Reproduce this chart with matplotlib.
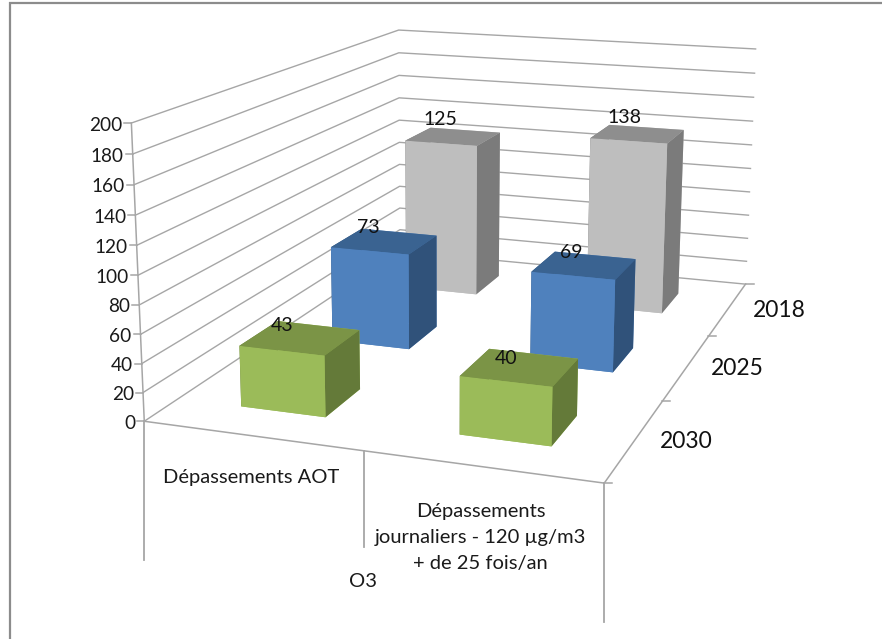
import matplotlib
matplotlib.use("Agg")
import matplotlib.pyplot as plt
from matplotlib.lines import Line2D
from mpl_toolkits.mplot3d import proj3d

# ---- data ----
categories = ["Dépassements AOT", "Dépassements\njournaliers - 120 µg/m3\n+ de 25 fois/an"]
group_label = "O3"
years = ["2030", "2025", "2018"]
values_2030 = [43, 40]
values_2025 = [73, 69]
values_2018 = [125, 138]
z_ticks = [0, 20, 40, 60, 80, 100, 120, 140, 160, 180, 200]

# ---- styles ----
series = [values_2030, values_2025, values_2018]
# faces of a bar: bottom, top, front, back, left, right
green = ['#9BBB59', '#7B9446', '#9BBB59', '#9BBB59', '#647A39', '#647A39']
blue = ['#4F81BD', '#3A6391', '#4F81BD', '#4F81BD', '#30527A', '#30527A']
gray = ['#BEBEBE', '#8E8E8E', '#BEBEBE', '#BEBEBE', '#7B7B7B', '#7B7B7B']
palette = [green, blue, gray]
label_offsets = [[(-18, 12), (-14, 9)], [(-16, 14), (-13, 13)], [(-13, 17), (-13, 17)]]
LINE = '#A6A6A6'
TXT = '#1a1a1a'
plt.rcParams['font.family'] = ['Lato', 'DejaVu Sans']

W, H = 882, 639
fig = plt.figure(figsize=(W/100, H/100), dpi=100, facecolor='white')
S, TX, TY = 4203.10, 482.68, 215.18
left, right = S*-0.095 + TX, S*0.09 + TX
bottom_img = S*0.095 + TY
ax = fig.add_axes([left/W, (H - bottom_img)/H, (right-left)/W, (right-left)/H], projection='3d')
ax.set_xlim(0, 2); ax.set_ylim(0, len(years)); ax.set_zlim(z_ticks[0], z_ticks[-1])
ax.view_init(elev=13.849, azim=-71.222, roll=-0.320)
ax.set_proj_type('persp', focal_length=0.417)
ax.set_box_aspect((1.567, 2.301, 1))
ax.set_axis_off()
ax.computed_zorder = False
ax.patch.set_alpha(0)


def proj(x, y, z):
    X, Y, _ = proj3d.proj_transform(x, y, z, ax.get_proj())
    return float(X), float(Y)


def disp(x, y, z):
    return ax.transData.transform(proj(x, y, z))


def screen_line(p, q, lw=1.1):
    fig.add_artist(Line2D([p[0], q[0]], [p[1], q[1]], transform=None, color=LINE, lw=lw))


x_end, y_end = len(categories), len(years)
# walls' gridlines
for z in z_ticks:
    ax.plot([0, 0, x_end], [0, y_end, y_end], [z, z, z], color=LINE, lw=1.0, zorder=1, clip_on=False)
# axis lines
ax.plot([0, 0], [0, 0], [z_ticks[0], z_ticks[-1]], color=LINE, lw=1.1, zorder=2)
ax.plot([0, x_end, x_end], [0, 0, y_end], [0, 0, 0], color=LINE, lw=1.1, zorder=2)

# z ticks and labels
for z in z_ticks:
    d = disp(0, 0, z)
    screen_line(d, (d[0]-7, d[1]))
    ax.annotate(str(z), xy=proj(0, 0, z), xytext=(-9, -2), textcoords='offset pixels', ha='right',
                va='center', fontsize=13.7, color=TXT, zorder=20, annotation_clip=False)

# depth axis ticks and labels
for k in range(y_end + 1):
    d = disp(x_end, k, 0)
    screen_line(d, (d[0]+8, d[1]))
for k, yr in enumerate(years):
    ax.annotate(yr, xy=proj(x_end, k+0.5, 0), xytext=(51, -1.5), textcoords='offset pixels', ha='center',
                va='center', fontsize=16.5, color='#111111', zorder=20, annotation_clip=False)

# multi-level category separators
for x, drop in zip([0, 1, 2], [139, 96, 139]):
    d = disp(x, 0, 0)
    screen_line(d, (d[0], d[1]-drop), lw=1.3)
for i, (cat, off) in enumerate(zip(categories, [(-1, -42), (-1, -71)])):
    ax.annotate(cat, xy=proj(i+0.5, 0, 0), xytext=off, textcoords='offset pixels', ha='center', va='center',
                fontsize=14.5, color=TXT, linespacing=1.64, zorder=20, annotation_clip=False)
ax.annotate(group_label, xy=proj(1, 0, 0), xytext=(-1, -131), textcoords='offset pixels', ha='center', va='center',
            fontsize=14.5, color=TXT, zorder=20, annotation_clip=False)

# bars
BW, BD = 0.396, 0.386
for k in reversed(range(y_end)):
    for i in range(x_end):
        v = series[k][i]
        ax.bar3d(i+0.5-BW/2, k+0.5-BD/2, 0, BW, BD, v, color=palette[k], shade=False, zorder=5+(y_end-k)*2)
        ax.annotate(str(v), xy=proj(i+0.5, k+0.5, v), xytext=label_offsets[k][i], textcoords='offset pixels',
                    ha='center', va='center', fontsize=14, color='#111111', zorder=20, annotation_clip=False)

# picture frame
fig.add_artist(Line2D([10, 10], [0, H-2], transform=None, color='#8C8C8C', lw=1.6, solid_capstyle='butt'))
fig.add_artist(Line2D([9, W], [H-3, H-3], transform=None, color='#8C8C8C', lw=1.6, solid_capstyle='butt'))

fig.savefig('out.png', dpi=100, facecolor='white')
